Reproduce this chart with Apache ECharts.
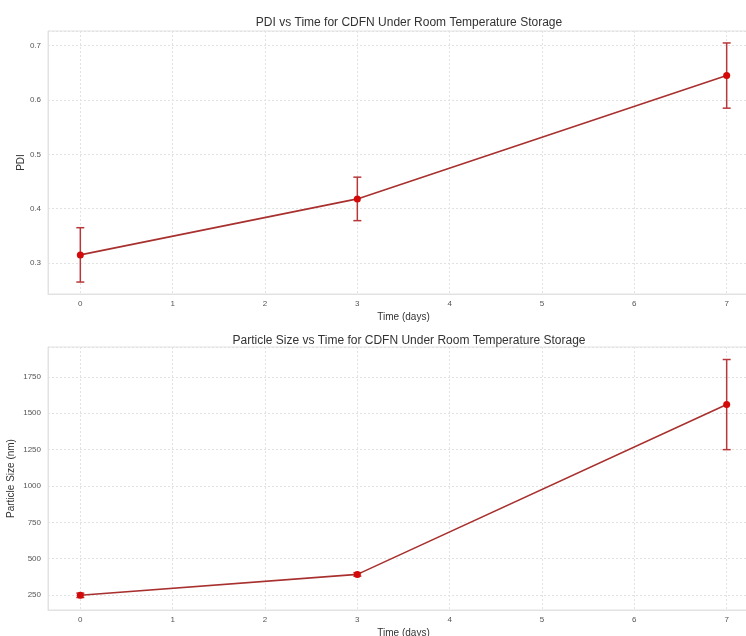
<!DOCTYPE html>
<html>
<head>
<meta charset="utf-8">
<script src="https://cdn.jsdelivr.net/npm/echarts@6/dist/echarts.min.js"></script>
<style>
  html, body { margin: 0; padding: 0; background: #fff; }
  #chart { width: 746px; height: 636px; }
</style>
</head>
<body>
<div id="chart"></div>
<script>
// storage time points (days)
var days = [0, 3, 7]
// PDI mean and std
var pdiMean = [0.315, 0.418, 0.645]
var pdiErr = [0.05, 0.04, 0.06]
// particle size (nm) mean and std
var sizeMean = [248, 392, 1560]
var sizeErr = [15, 12, 310]

var fontFamily = '"Liberation Sans", Arial, sans-serif'
var lineColor = '#a8302e'
var markerColor = '#d40a0a'
var errColor = '#b8383a'
var gridColor = '#e2e2e2'

function pairs(xs, ys) {
    return xs.map(function (x, i) { return [x, ys[i]] })
}
function errRows(xs, ys, es) {
    return xs.map(function (x, i) { return [x, ys[i], es[i]] })
}

// error bars with caps
function renderErr(params, api) {
    var x = api.value(0), y = api.value(1), e = api.value(2)
    var lo = api.coord([x, y - e])
    var hi = api.coord([x, y + e])
    var cap = 4
    var style = { stroke: errColor, lineWidth: 1.5 }
    return {
        type: 'group',
        children: [
            { type: 'line', shape: { x1: lo[0], y1: lo[1], x2: hi[0], y2: hi[1] }, style: style },
            { type: 'line', shape: { x1: lo[0] - cap, y1: lo[1], x2: lo[0] + cap, y2: lo[1] }, style: style },
            { type: 'line', shape: { x1: hi[0] - cap, y1: hi[1], x2: hi[0] + cap, y2: hi[1] }, style: style }
        ]
    }
}

function xAxisCfg(idx) {
    return {
        type: 'value', gridIndex: idx,
        min: -0.35, max: 7.35, minInterval: 1, maxInterval: 1,
        name: 'Time (days)', nameLocation: 'middle', nameGap: 18,
        nameTextStyle: { fontFamily: fontFamily, fontSize: 10, color: '#333' },
        axisLine: { show: true, onZero: false, lineStyle: { color: gridColor } },
        axisTick: { show: false },
        axisLabel: { fontFamily: fontFamily, fontSize: 8, color: '#555', margin: 6, showMinLabel: false, showMaxLabel: false },
        splitLine: { show: true, lineStyle: { color: gridColor, type: [2, 2] } }
    }
}

function yAxisCfg(idx, name, min, max, step, gap) {
    return {
        type: 'value', gridIndex: idx,
        min: min, max: max, minInterval: step, maxInterval: step,
        name: name, nameLocation: 'middle', nameGap: gap, nameMoveOverlap: false,
        nameTextStyle: { fontFamily: fontFamily, fontSize: 10, color: '#333' },
        axisLine: { show: true, onZero: false, lineStyle: { color: gridColor } },
        axisTick: { show: false },
        axisLabel: {
            fontFamily: fontFamily, fontSize: 8, color: '#555', margin: 7,
            showMinLabel: false, showMaxLabel: false,
            formatter: function (v) { return String(v) }
        },
        splitLine: { show: true, lineStyle: { color: gridColor, type: [2, 2] } }
    }
}

var chart = echarts.init(document.getElementById('chart'))
chart.setOption({
    backgroundColor: '#fff',
    animation: false,
    title: [
        {
            text: 'PDI vs Time for CDFN Under Room Temperature Storage',
            left: 404, top: 12, textAlign: 'center',
            textStyle: { fontFamily: fontFamily, fontSize: 12, fontWeight: 'normal', color: '#333' }
        },
        {
            text: 'Particle Size vs Time for CDFN Under Room Temperature Storage',
            left: 404, top: 330, textAlign: 'center',
            textStyle: { fontFamily: fontFamily, fontSize: 12, fontWeight: 'normal', color: '#333' }
        }
    ],
    grid: [
        { left: 48, top: 31, width: 711, height: 263, show: true, borderColor: gridColor, borderWidth: 1, outerBoundsMode: 'none', containLabel: false },
        { left: 48, top: 347, width: 711, height: 263, show: true, borderColor: gridColor, borderWidth: 1, outerBoundsMode: 'none', containLabel: false }
    ],
    xAxis: [xAxisCfg(0), xAxisCfg(1)],
    yAxis: [
        yAxisCfg(0, 'PDI', 0.243, 0.727, 0.1, 22),
        yAxisCfg(1, 'Particle Size (nm)', 147, 1956, 250, 32)
    ],
    series: [
        {
            type: 'custom', xAxisIndex: 0, yAxisIndex: 0, z: 1,
            renderItem: renderErr, data: errRows(days, pdiMean, pdiErr)
        },
        {
            type: 'line', xAxisIndex: 0, yAxisIndex: 0, z: 3,
            data: pairs(days, pdiMean),
            lineStyle: { color: lineColor, width: 1.6 },
            symbol: 'circle', symbolSize: 7,
            itemStyle: { color: markerColor }
        },
        {
            type: 'custom', xAxisIndex: 1, yAxisIndex: 1, z: 1,
            renderItem: renderErr, data: errRows(days, sizeMean, sizeErr)
        },
        {
            type: 'line', xAxisIndex: 1, yAxisIndex: 1, z: 3,
            data: pairs(days, sizeMean),
            lineStyle: { color: lineColor, width: 1.6 },
            symbol: 'circle', symbolSize: 7,
            itemStyle: { color: markerColor }
        }
    ]
})
</script>
</body>
</html>
